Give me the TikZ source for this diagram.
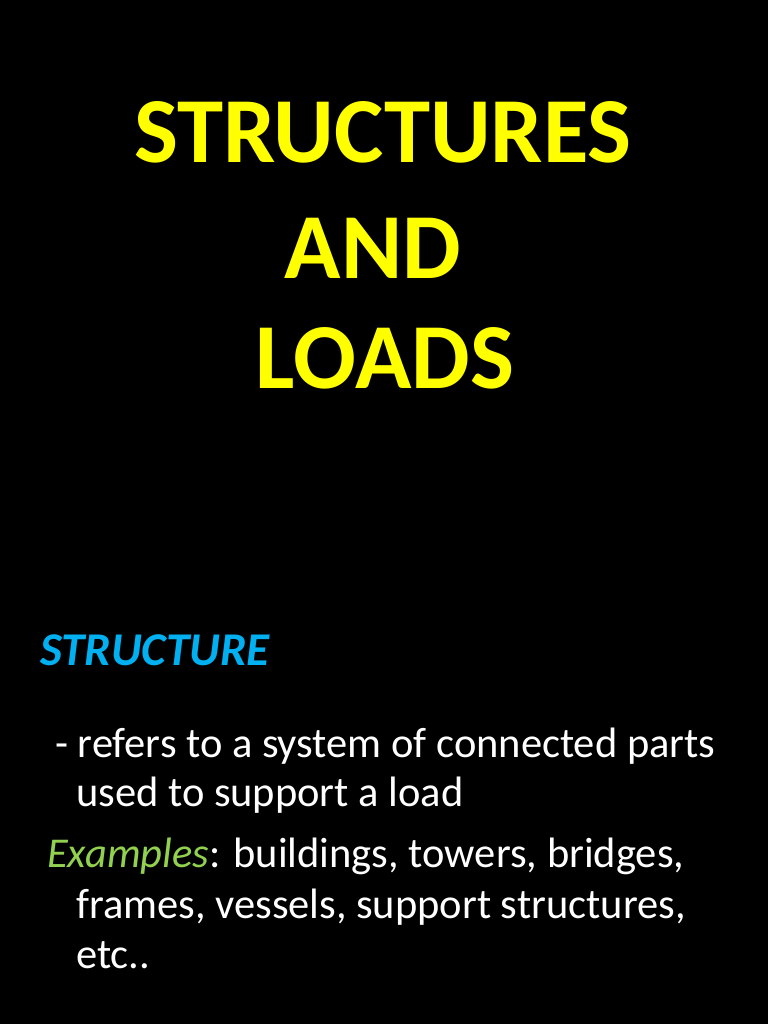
\documentclass[tikz,border=0pt]{standalone}
\usepackage{fontspec}
\setmainfont{Carlito}
\definecolor{ttl}{HTML}{FFFF00}
\definecolor{hd}{HTML}{00B0F0}
\definecolor{ex}{HTML}{92D050}
\begin{document}
\begin{tikzpicture}[x=1pt,y=-1pt,
  title/.style={text=ttl,font=\fontsize{93}{93}\selectfont\bfseries,anchor=base,inner sep=0},
  body/.style={text=white,font=\fontsize{42.5}{42.5}\selectfont,anchor=base west,inner sep=0}]
\fill[black] (0,0) rectangle (768,1024);
\useasboundingbox (0,0) rectangle (768,1024);
\node[title] (t1) at (383,163) {STRUCTURES};
\node[title] (t2) at (373,278) {AND};
\node[title] (t3) at (385,388) {LOADS};
\node[anchor=base west,inner sep=0,text=hd,font=\fontsize{47}{47}\selectfont\bfseries\itshape] (h) at (40,665) {STRUCTURE};
\node[body] (l1) at (55,757) {- refers to a system of connected parts};
\node[body] (l2) at (76,806) {used to support a load};
\node[body] (l3) at (47,867) {\textcolor{ex}{\itshape Examples}: buildings, towers, bridges,};
\node[body] (l4) at (76,918) {frames, vessels, support structures,};
\node[body] (l5) at (76,968) {etc..};
\end{tikzpicture}
\end{document}
